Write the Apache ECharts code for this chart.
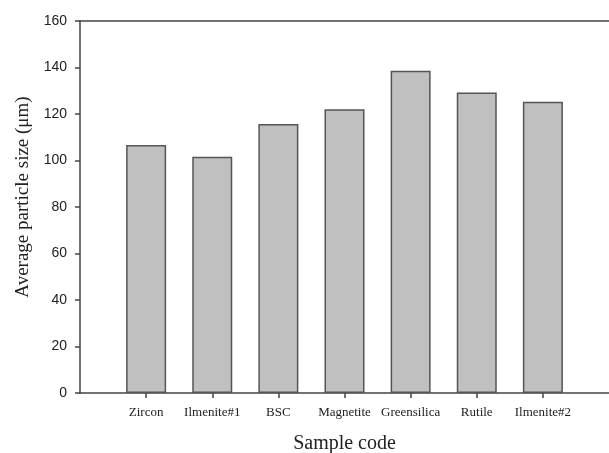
<!DOCTYPE html>
<html>
<head>
<meta charset="utf-8">
<script src="https://cdn.jsdelivr.net/npm/echarts@6/dist/echarts.min.js"></script>
<style>html,body{margin:0;padding:0;background:#fff}#c{width:609px;height:453px}</style>
</head>
<body>
<div id="c"></div>
<script>
var categories = ['Zircon', 'Ilmenite#1', 'BSC', 'Magnetite', 'Greensilica', 'Rutile', 'Ilmenite#2'];
var sizes = [106.7, 101.6, 115.7, 122.0, 138.6, 129.3, 125.3];
var yTicks = [0, 20, 40, 60, 80, 100, 120, 140, 160];

var paddedCats = [''].concat(categories).concat(['']);
var paddedData = [null].concat(sizes).concat([null]);
var lineStyle = {color: '#444', width: 1.5};

var chart = echarts.init(document.getElementById('c'));
chart.setOption({
  animation: false,
  backgroundColor: '#fff',
  grid: {left: 80, right: 0, top: 21, bottom: 60, containLabel: false, outerBoundsMode: 'none'},
  xAxis: [{
    type: 'category',
    data: paddedCats,
    boundaryGap: false,
    position: 'bottom',
    axisLine: {lineStyle: lineStyle},
    axisTick: {show: true, length: 5, lineStyle: lineStyle,
      interval: function (i, v) { return v !== ''; }},
    axisLabel: {fontFamily: 'Liberation Serif', fontSize: 13, color: '#222', margin: 13, interval: 0},
    name: 'Sample code',
    nameLocation: 'middle',
    nameGap: 41,
    nameTextStyle: {fontFamily: 'Liberation Serif', fontSize: 20, color: '#222'}
  }, {
    type: 'category',
    data: paddedCats,
    boundaryGap: false,
    position: 'top',
    axisLine: {lineStyle: lineStyle},
    axisTick: {show: false},
    axisLabel: {show: false}
  }],
  yAxis: {
    type: 'value',
    min: yTicks[0],
    max: yTicks[yTicks.length - 1],
    interval: yTicks[1] - yTicks[0],
    axisLine: {show: true, lineStyle: lineStyle},
    axisTick: {show: true, length: 5, lineStyle: lineStyle},
    splitLine: {show: false},
    axisLabel: {fontFamily: 'Liberation Sans', fontSize: 14, color: '#222', margin: 13},
    name: 'Average particle size (μm)',
    nameLocation: 'middle',
    nameGap: 46,
    nameTextStyle: {fontFamily: 'Liberation Serif', fontSize: 19, color: '#222', padding: [0, 0, 0, 20]}
  },
  series: [{
    type: 'bar',
    data: paddedData,
    barWidth: 40,
    itemStyle: {color: '#c0c0c0', borderColor: '#555', borderWidth: 1.5}
  }]
});
</script>
</body>
</html>
